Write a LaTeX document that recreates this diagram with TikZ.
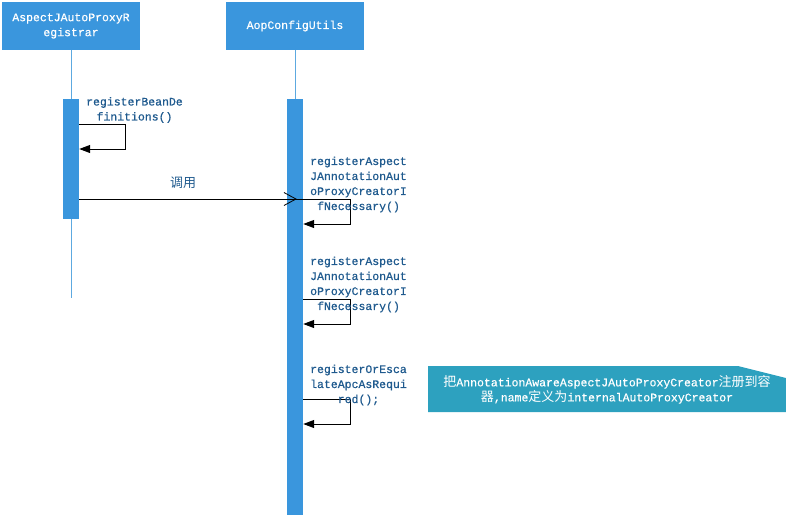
\documentclass[tikz,border=0pt]{standalone}
\usepackage{fontspec}
\newfontfamily\monof[FakeBold=0.6]{Liberation Mono}
\newfontfamily\cjk{Noto Sans CJK SC}
\usetikzlibrary{arrows.meta}
\definecolor{headblue}{HTML}{3A96DD}
\definecolor{lifeblue}{HTML}{5DA9E0}
\definecolor{labelblue}{HTML}{1F5A8E}
\definecolor{noteteal}{HTML}{2DA1BF}
\newcommand{\zh}[1]{{\cjk\fontsize{13}{15}\selectfont #1}}
\tikzset{
  headbox/.style={fill=headblue, text=white, minimum width=138pt, minimum height=48pt,
    inner sep=0pt, align=center, font=\monof\fontsize{11.5}{15}\selectfont},
  actbar/.style={fill=headblue, minimum width=16pt, inner sep=0pt, anchor=north},
  lifeline/.style={draw=lifeblue, line width=0.8pt},
  msglabel/.style={text=labelblue, align=center, inner sep=0pt,
    font=\monof\fontsize{11.5}{15}\selectfont},
  selfcall/.style={draw=black, line width=1pt, -{Triangle[length=11pt,width=8pt]}},
  msgline/.style={draw=black, line width=1pt},
  callhead/.style={draw=black, line width=1pt, -{Straight Barb[length=12pt,width=13pt,line width=0.8pt]}},
  notetext/.style={text=white, align=center, inner sep=0pt,
    font=\monof\fontsize{11.5}{15}\selectfont},
}
\begin{document}
\begin{tikzpicture}[x=1pt,y=-1pt]
\useasboundingbox (0,0) rectangle (786,515);

% participants
\node[headbox] (reg) at (71,26) {AspectJAutoProxyR\\egistrar};
\node[headbox] (aop) at (295,26) {AopConfigUtils};

% lifelines
\coordinate (end1) at (71,298);
\coordinate (top2) at (295,99);
\draw[lifeline] (reg.south) -- (end1);
\draw[lifeline] (aop.south) -- (top2);

% activation bars
\node[actbar, minimum height=120pt] (act1) at (71,99) {};
\node[actbar, minimum height=416pt] (act2) at (top2) {};

% self call on the registrar
\draw[selfcall] ([yshift=-25pt]act1.north east) -- ++(46,0) |- ([yshift=-50pt]act1.north east);
\node[msglabel] (l1) at (134.5,110) {registerBeanDe\\finitions()};

% call to AopConfigUtils
\draw[msgline] ([yshift=-100pt]act1.north east) -- ([yshift=-100pt]act2.north east);
\draw[callhead] ([yshift=-100pt]act1.north east) -- ([yshift=-100pt,xshift=10pt]act2.north west);
\node[text=labelblue, inner sep=0pt] (l0) at (183,183) {\zh{调用}};

% self calls on AopConfigUtils
\draw[selfcall] ([yshift=-100pt]act2.north east) -- ++(47,0) |- ([yshift=-125pt]act2.north east);
\node[msglabel] (l2) at (358.5,184.5) {registerAspect\\JAnnotationAut\\oProxyCreatorI\\fNecessary()};

\draw[selfcall] ([yshift=-200pt]act2.north east) -- ++(47,0) |- ([yshift=-225pt]act2.north east);
\node[msglabel] (l3) at (358.5,284.5) {registerAspect\\JAnnotationAut\\oProxyCreatorI\\fNecessary()};

\draw[selfcall] ([yshift=-300pt]act2.north east) -- ++(47,0) |- ([yshift=-325pt]act2.north east);
\node[msglabel] (l4) at (358.5,385) {registerOrEsca\\lateApcAsRequi\\red();};

% note with cut corner
\fill[noteteal] (428,366) -- (738,366) -- (786,378) -- (786,412) -- (428,412) -- cycle;
\node[notetext] (note) at (607,389.5)
  {\zh{把}AnnotationAwareAspectJAutoProxyCreator\zh{注册到容}\\\zh{器},name\zh{定义为}internalAutoProxyCreator};
\end{tikzpicture}
\end{document}
